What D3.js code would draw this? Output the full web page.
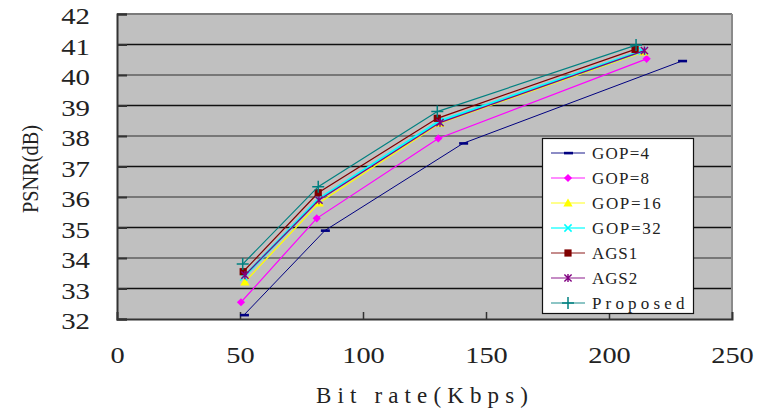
<!DOCTYPE html>
<html><head><meta charset="utf-8">
<script src="https://cdn.jsdelivr.net/npm/d3@7"></script>
<style>body{margin:0;background:#fff}svg{display:block}</style>
</head><body>
<svg id="c" width="758" height="412"></svg>
<script>
const seriesNames = ["GOP=4","GOP=8","GOP=16","GOP=32","AGS1","AGS2","Proposed"];
const gop4X = [51.6, 84.5, 140.7, 229.7],  gop4Y = [32.13, 34.9, 37.76, 40.46];
const gop8X = [50.4, 81.2, 130.6, 215.3],  gop8Y = [32.55, 35.3, 37.92, 40.53];
const gop16X = [52.0, 82.2, 131.3, 214.2], gop16Y = [33.22, 35.81, 38.42, 40.76];
const gop32X = [51.5, 81.8, 131.0, 213.5], gop32Y = [33.38, 35.92, 38.48, 40.79];
const ags1X = [51.3, 81.8, 130.2, 210.6],  ags1Y = [33.55, 36.14, 38.58, 40.84];
const ags2X = [52.0, 82.1, 131.3, 214.4],  ags2Y = [33.44, 35.9, 38.44, 40.80];
const propX = [51.1, 81.8, 130.2, 211.0],  propY = [33.80, 36.34, 38.80, 40.98];
const xTicks = [0, 50, 100, 150, 200, 250];
const yTicks = [32, 33, 34, 35, 36, 37, 38, 39, 40, 41, 42];
const xTitle = "Bit rate(Kbps)", yTitle = "PSNR(dB)";

const styles = [
  {color:"#000080", marker:"dash", w:1},
  {color:"#FF00FF", marker:"diamond", w:1.2},
  {color:"#FFFF00", marker:"triangle", w:1.2},
  {color:"#00FFFF", marker:"x", w:2.6},
  {color:"#800000", marker:"square", w:1.2},
  {color:"#800080", marker:"asterisk", w:1.2},
  {color:"#008080", marker:"plus", w:1.2}
];
const data = [[gop4X,gop4Y],[gop8X,gop8Y],[gop16X,gop16Y],[gop32X,gop32Y],[ags1X,ags1Y],[ags2X,ags2Y],[propX,propY]]
  .map((d,i)=>({name:seriesNames[i], pts:d[0].map((x,j)=>({x, y:d[1][j]})), ...styles[i]}));

const L=117, R=732, T=14, B=319;
const x = d3.scaleLinear().domain([0,250]).range([L,R]);
const y = d3.scaleLinear().domain([32,42]).range([B,T]);
const svg = d3.select("#c");
const font = "'Liberation Serif', 'Times New Roman', serif";

svg.append("rect").attr("x",L).attr("y",T).attr("width",R-L).attr("height",B-T).attr("fill","#c0c0c0");
svg.append("g").selectAll("line").data(yTicks.filter(v=>v>32&&v<42)).join("line")
  .attr("x1",L).attr("x2",R).attr("y1",d=>y(d)).attr("y2",d=>y(d))
  .attr("stroke",d=>d%2===0?"#777":"#111").attr("stroke-width",d=>d%2===0?2:1.3);
svg.append("line").attr("x1",L).attr("x2",R).attr("y1",T).attr("y2",T).attr("stroke","#7a7a7a").attr("stroke-width",2);
svg.append("line").attr("x1",R).attr("x2",R).attr("y1",T).attr("y2",B).attr("stroke","#8a8a8a").attr("stroke-width",2);

const yAxis = svg.append("g").attr("transform",`translate(${L},0)`)
  .call(d3.axisLeft(y).tickValues(yTicks).tickSize(-10).tickPadding(27).tickFormat(d3.format("d")));
yAxis.select(".domain").attr("stroke","#333").attr("stroke-width",2);
yAxis.selectAll(".tick line").attr("stroke","#333").attr("stroke-width",2);
yAxis.selectAll("text").attr("font-family",font).attr("font-size",23).attr("fill","#222").attr("dy","0.42em")
  .attr("textLength",d=>String(d).length*14.4).attr("lengthAdjust","spacingAndGlyphs");

const xAxis = svg.append("g").attr("transform",`translate(0,${B})`)
  .call(d3.axisBottom(x).tickValues(xTicks).tickSize(-7).tickPadding(28).tickFormat(d3.format("d")));
xAxis.select(".domain").attr("stroke","#333").attr("stroke-width",2);
xAxis.selectAll(".tick line").attr("stroke","#333").attr("stroke-width",1.5).attr("display",d=>(d===0||d===250)?"none":null);
xAxis.selectAll("text").attr("font-family",font).attr("font-size",23).attr("fill","#222")
  .attr("textLength",d=>String(d).length*14.2).attr("lengthAdjust","spacingAndGlyphs");

svg.append("text").attr("x",422).attr("y",403).attr("text-anchor","middle")
  .attr("font-family",font).attr("font-size",23).attr("fill","#222")
  .attr("textLength",212).attr("lengthAdjust","spacing").text(xTitle);
svg.append("text").attr("transform","translate(38,169) rotate(-90)").attr("text-anchor","middle")
  .attr("font-family",font).attr("font-size",23).attr("fill","#222")
  .attr("textLength",88).attr("lengthAdjust","spacingAndGlyphs").text(yTitle);

function drawMarker(g, m, color, cx, cy){
  const s = 3.6;
  if(m==="dash") g.append("rect").attr("x",cx-4).attr("y",cy-1.2).attr("width",9).attr("height",2.6).attr("fill",color);
  else if(m==="diamond") g.append("path").attr("d",`M${cx},${cy-s-0.5}L${cx+s+0.5},${cy}L${cx},${cy+s+0.5}L${cx-s-0.5},${cy}Z`).attr("fill",color);
  else if(m==="triangle") g.append("path").attr("d",`M${cx},${cy-s-1}L${cx+s+1},${cy+s}L${cx-s-1},${cy+s}Z`).attr("fill",color);
  else if(m==="square") g.append("rect").attr("x",cx-s).attr("y",cy-s).attr("width",2*s).attr("height",2*s).attr("fill",color);
  else if(m==="x") g.append("path").attr("d",`M${cx-s},${cy-s}L${cx+s},${cy+s}M${cx-s},${cy+s}L${cx+s},${cy-s}`).attr("stroke",color).attr("stroke-width",1.5);
  else if(m==="asterisk") g.append("path").attr("d",`M${cx-s},${cy-s}L${cx+s},${cy+s}M${cx-s},${cy+s}L${cx+s},${cy-s}M${cx},${cy-s-0.5}L${cx},${cy+s+0.5}`).attr("stroke",color).attr("stroke-width",1.4);
  else if(m==="plus") g.append("path").attr("d",`M${cx-6},${cy}L${cx+6},${cy}M${cx},${cy-6}L${cx},${cy+6}`).attr("stroke",color).attr("stroke-width",1.5);
}

const line = d3.line().x(d=>x(d.x)).y(d=>y(d.y));
data.forEach(s=>{
  const g = svg.append("g");
  g.append("path").datum(s.pts).attr("d",line).attr("fill","none").attr("stroke",s.color).attr("stroke-width",s.w);
  s.pts.forEach(p=>drawMarker(g, s.marker, s.color, x(p.x), y(p.y)));
});

const lg = svg.append("g");
lg.append("rect").attr("x",542.5).attr("y",138.5).attr("width",151).attr("height",175).attr("fill","#fff").attr("stroke","#111").attr("stroke-width",1.2);
data.forEach((s,i)=>{
  const cy = 153 + i*25;
  lg.append("line").attr("x1",551).attr("x2",585).attr("y1",cy).attr("y2",cy).attr("stroke",s.color).attr("stroke-width",s.w>2?2:1.5).attr("opacity",0.6);
  drawMarker(lg, s.marker, s.color, 568, cy);
  lg.append("text").attr("x",592).attr("y",cy+5.5).attr("font-family",font).attr("font-size",17).attr("fill","#222")
    .attr("textLength",s.name.length*11.8-2).attr("lengthAdjust","spacing").text(s.name);
});
</script>
</body></html>
